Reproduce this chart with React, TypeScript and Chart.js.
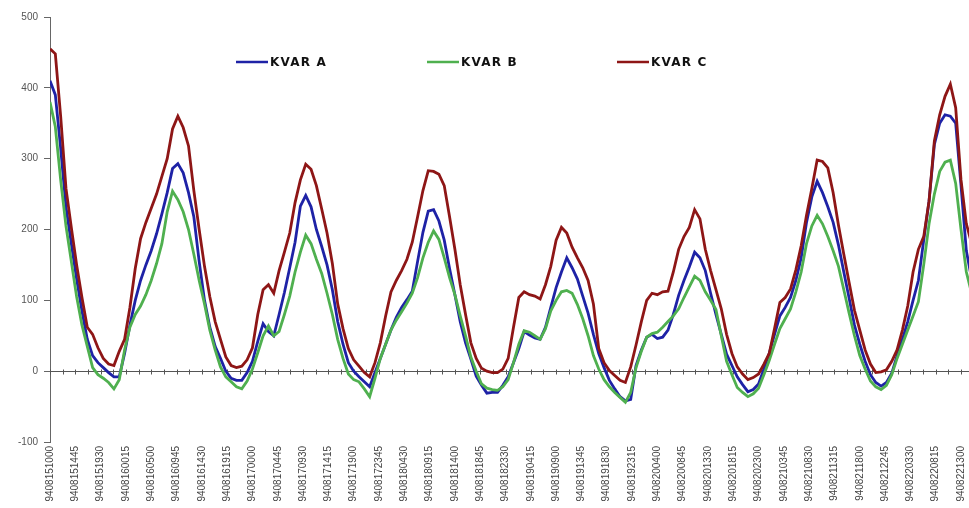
import { useEffect, useRef } from 'react';
import { Chart, registerables } from 'chart.js';

Chart.register(...registerables);

// x tick labels (YYMMDDHHMM), one every 4h45m
const tickLabels = [
  '9408151000', '9408151445', '9408151930', '9408160015', '9408160500', '9408160945',
  '9408161430', '9408161915', '9408170000', '9408170445', '9408170930', '9408171415',
  '9408171900', '9408172345', '9408180430', '9408180915', '9408181400', '9408181845',
  '9408182330', '9408190415', '9408190900', '9408191345', '9408191830', '9408192315',
  '9408200400', '9408200845', '9408201330', '9408201815', '9408202300', '9408210345',
  '9408210830', '9408211315', '9408211800', '9408212245', '9408220330', '9408220815',
  '9408221300',
];

const seriesNames = ['KVAR A', 'KVAR B', 'KVAR C'];

// hourly readings
const kvarA = [
  410, 390, 315, 232, 180, 130, 85, 45, 22, 12, 5, -2, -8, -8, 25, 65, 100, 128, 150, 170,
  194, 222, 252, 286, 293, 280, 252, 218, 155, 100, 62, 35, 18, 0, -10, -13, -13, -2, 14, 42,
  67, 56, 50, 80, 111, 146, 182, 233, 248, 232, 200, 176, 150, 115, 70, 38, 12, 0, -8, -15,
  -22, -2, 18, 38, 58, 76, 90, 101, 113, 155, 196, 226, 228, 212, 185, 145, 108, 70, 40, 17,
  -7, -20, -31, -30, -30, -20, -8, 12, 32, 56, 51, 47, 45, 62, 90, 118, 140, 160, 146, 130,
  106, 82, 52, 25, 5, -13, -25, -36, -42, -40, 8, 30, 48, 52, 46, 48, 58, 80, 107, 128,
  147, 168, 160, 142, 110, 80, 52, 24, 8, -8, -19, -29, -26, -18, 3, 25, 52, 78, 90, 104,
  128, 160, 210, 246, 268, 252, 232, 210, 178, 140, 103, 65, 38, 14, -5, -16, -21, -16, -3, 22,
  45, 70, 100, 128, 185, 240, 320, 350, 362, 360, 350, 262, 170, 130,
];

const kvarB = [
  380, 345, 270, 205, 155, 105, 65, 35, 5, -5, -10, -16, -25, -12, 30, 62, 80, 92, 108, 128,
  152, 180, 225, 254, 242, 225, 200, 165, 128, 95, 58, 30, 6, -8, -15, -22, -25, -14, 3, 26,
  50, 64, 50, 56, 80, 106, 140, 168, 192, 180, 158, 138, 110, 80, 45, 18, -4, -12, -15, -25,
  -36, -10, 18, 38, 58, 72, 84, 96, 110, 132, 160, 182, 198, 186, 160, 132, 108, 78, 50, 20,
  0, -18, -24, -26, -27, -22, -12, 12, 38, 57, 55, 50, 45, 60, 85, 100, 112, 114, 110, 94,
  74, 50, 22, 3, -12, -22, -30, -37, -44, -30, 5, 28, 48, 53, 55, 62, 70, 78, 88, 104,
  119, 134, 128, 112, 100, 87, 50, 14, -5, -23, -30, -36, -32, -24, -5, 15, 38, 60, 74, 88,
  112, 140, 180, 205, 220, 208, 190, 170, 148, 115, 82, 50, 22, 3, -14, -22, -26, -20, -5, 18,
  38, 58, 78, 98, 150, 208, 250, 282, 295, 298, 265, 200, 140, 110,
];

const kvarC = [
  455, 448, 360, 258, 203, 150, 104, 62, 52, 33, 18, 10, 8, 28, 45, 90, 145, 187, 210, 230,
  250, 275, 300, 342, 360, 344, 318, 255, 200, 148, 105, 70, 45, 20, 8, 5, 7, 16, 33, 80,
  115, 122, 110, 142, 168, 195, 238, 270, 292, 285, 262, 229, 195, 152, 95, 60, 32, 16, 7, -2,
  -8, 12, 40, 78, 112, 128, 142, 158, 182, 218, 255, 283, 282, 278, 262, 218, 172, 122, 80, 40,
  18, 4, 0, -2, -2, 3, 18, 62, 104, 112, 108, 106, 102, 122, 148, 185, 203, 195, 175, 160,
  146, 128, 95, 32, 12, 1, -6, -13, -16, 6, 37, 70, 100, 110, 108, 112, 113, 140, 172, 190,
  203, 228, 215, 172, 142, 115, 88, 52, 25, 6, -4, -12, -9, -4, 10, 25, 60, 97, 104, 116,
  143, 177, 220, 258, 298, 296, 287, 252, 206, 165, 125, 86, 58, 30, 10, -2, -1, 2, 14, 30,
  58, 92, 140, 172, 190, 240, 325, 362, 388, 405, 372, 270, 208, 180,
];

const seriesValues = [kvarA, kvarB, kvarC];
const seriesColors = ['#1e22a6', '#4fb04f', '#8e1616'];
const seriesOrder = [3, 2, 1];

const STEPS_PER_READING = 4; // 15-minute steps per hourly reading
const STEPS_PER_LABEL = 19; // 15-minute steps between labels
const X_MAX = 690;

const zeroLinePlugin = {
  id: 'zeroLine',
  beforeDatasetsDraw(chart: any) {
    const { ctx, chartArea, scales } = chart;
    const x = scales.x;
    const y = scales.y;
    const py = Math.round(y.getPixelForValue(0)) + 0.5;
    ctx.save();
    ctx.strokeStyle = '#555';
    ctx.lineWidth = 1;
    ctx.beginPath();
    ctx.moveTo(chartArea.left, py);
    ctx.lineTo(chartArea.right, py);
    for (let v = 0; v <= X_MAX; v += STEPS_PER_LABEL / 2) {
      const px = Math.round(x.getPixelForValue(v)) + 0.5;
      ctx.moveTo(px, py - 2);
      ctx.lineTo(px, py + 3);
    }
    ctx.stroke();
    ctx.restore();
  },
};

const inlineLegendPlugin = {
  id: 'inlineLegend',
  afterDatasetsDraw(chart: any, _args: any, opts: any) {
    const { ctx, chartArea } = chart;
    const cy = chartArea.top + opts.offsetY;
    ctx.save();
    chart.data.datasets.forEach((ds: any, i: number) => {
      const x0 = chartArea.left + opts.offsetsX[i];
      ctx.strokeStyle = ds.borderColor;
      ctx.lineWidth = 2.5;
      ctx.beginPath();
      ctx.moveTo(x0, cy);
      ctx.lineTo(x0 + opts.lineLength, cy);
      ctx.stroke();
      ctx.fillStyle = '#111';
      ctx.font = 'bold 12px "DejaVu Sans", sans-serif';
      try { (ctx as any).letterSpacing = '1.2px'; } catch (e) {}
      ctx.textBaseline = 'middle';
      ctx.textAlign = 'left';
      ctx.fillText(ds.label, x0 + opts.lineLength + 2, cy + 1);
      try { (ctx as any).letterSpacing = '0px'; } catch (e) {}
    });
    ctx.restore();
  },
};

export default function App() {
  const canvasRef = useRef<HTMLCanvasElement | null>(null);

  useEffect(() => {
    document.body.style.margin = '0';
    const canvas = canvasRef.current;
    if (!canvas) return;
    Chart.defaults.font.family = '"Liberation Sans", Arial, sans-serif';
    const chart = new Chart(canvas, {
      type: 'line',
      data: {
        datasets: seriesValues.map((vals, si) => ({
          label: seriesNames[si],
          data: vals.map((v, i) => ({ x: i * STEPS_PER_READING, y: v })),
          borderColor: seriesColors[si],
          backgroundColor: seriesColors[si],
          borderWidth: 2.8,
          pointRadius: 0,
          tension: 0,
          order: seriesOrder[si],
        })),
      },
      options: {
        animation: false,
        responsive: false,
        maintainAspectRatio: false,
        layout: { padding: { top: 17, left: 0, right: 0, bottom: 0 } },
        plugins: {
          legend: { display: false },
          tooltip: { enabled: false },
          inlineLegend: { offsetsX: [186, 377, 567], offsetY: 45, lineLength: 32 },
        } as any,
        scales: {
          x: {
            type: 'linear',
            min: 0,
            max: X_MAX,
            afterBuildTicks: (s: any) => {
              s.ticks = tickLabels.map((_, i) => ({ value: i * STEPS_PER_LABEL }));
            },
            afterFit: (s: any) => {
              s.height = 66;
              s.paddingLeft = 0;
              s.paddingRight = 0;
            },
            ticks: {
              autoSkip: false,
              minRotation: 90,
              maxRotation: 90,
              padding: 4,
              color: '#444',
              font: { size: 10 },
              callback: (v: any) => tickLabels[Math.round(Number(v) / STEPS_PER_LABEL)] ?? '',
            },
            grid: { display: false, drawTicks: false },
            border: { display: false },
          },
          y: {
            min: -100,
            max: 500,
            afterFit: (s: any) => {
              s.width = 50;
            },
            ticks: { stepSize: 100, color: '#555', padding: 6, font: { size: 10 } },
            grid: { drawOnChartArea: false, tickLength: 6, color: '#666' },
            border: { color: '#666', width: 1 },
          },
        },
      },
      plugins: [zeroLinePlugin, inlineLegendPlugin],
    });
    return () => chart.destroy();
  }, []);

  return (
    <div style={{ width: 969, height: 508 }}>
      <canvas ref={canvasRef} width={969} height={508} />
    </div>
  );
}
